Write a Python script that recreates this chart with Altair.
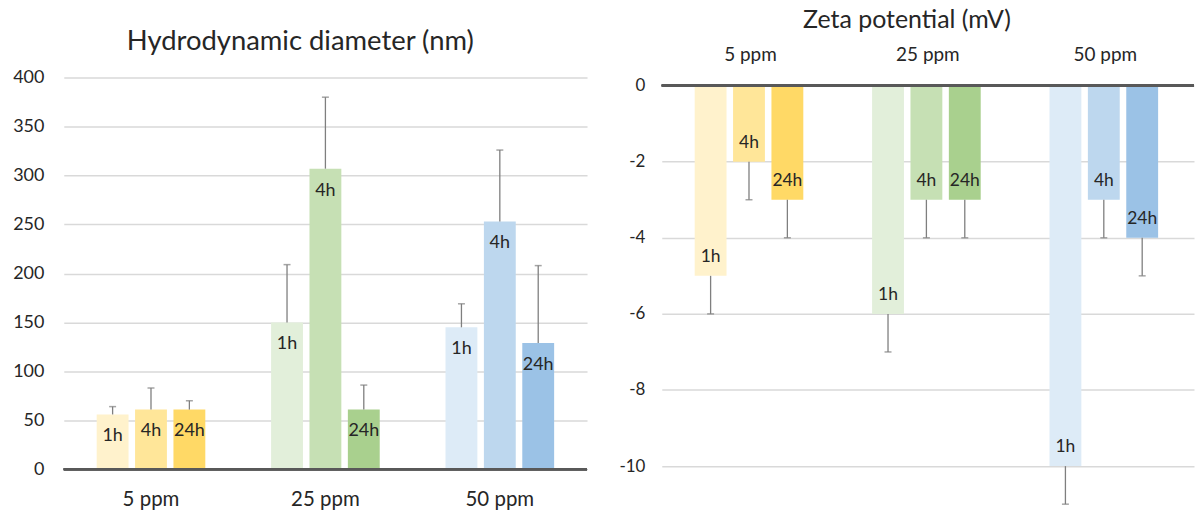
import altair as alt
import pandas as pd

# Concentrations and exposure times
groups = ["5 ppm", "25 ppm", "50 ppm"]
times = ["1h", "4h", "24h"]

# Hydrodynamic diameter (nm): mean and standard deviation, ordered group by group, 1h/4h/24h
hd_mean = [56, 61, 61, 150, 307, 61, 145, 253, 129]
hd_sd = [8, 22, 9, 59, 73, 25, 24, 73, 79]

# Zeta potential (mV): mean and standard deviation
zeta_mean = [-5, -2, -3, -6, -3, -3, -10, -3, -4]
zeta_sd = [1, 1, 1, 1, 1, 1, 1, 1, 1]

# One shade per concentration, darkening with exposure time
bar_colors = [
    "#FFF2CC", "#FFE699", "#FFD966",
    "#E2EFDA", "#C6E0B4", "#A9D08E",
    "#DDEBF7", "#BDD7EE", "#9BC2E6",
]

FONT = "Lato"
TEXT = "#262626"
GRID = "#D9D9D9"
AXIS_LINE = "#595959"
ERR = "#7F7F7F"

rows = []
i = 0
for g in groups:
    for t in times:
        rows.append({
            "group": g, "time": t, "key": f"{g} {t}",
            "hd": hd_mean[i], "hd_hi": hd_mean[i] + hd_sd[i],
            "zeta": zeta_mean[i], "zeta_lo": zeta_mean[i] - zeta_sd[i],
        })
        i += 1
df = pd.DataFrame(rows)
keys = list(df["key"])
color = alt.Color("key:N", scale=alt.Scale(domain=keys, range=bar_colors), legend=None)

# ---------------- Hydrodynamic diameter ----------------
x_left = alt.X(
    "group:N", sort=groups, title=None,
    scale=alt.Scale(paddingInner=0, paddingOuter=0),
    axis=alt.Axis(labelAngle=0, ticks=False, domain=False, labelPadding=20,
                  labelFont=FONT, labelFontSize=20.5, labelColor=TEXT),
)
xo_left = alt.XOffset("time:N", sort=times,
                      scale=alt.Scale(paddingInner=0.17, paddingOuter=0.857))
y_left = alt.Y(
    "hd:Q", title=None,
    scale=alt.Scale(domain=[0, 400], nice=False),
    axis=alt.Axis(values=[0, 50, 100, 150, 200, 250, 300, 350, 400],
                  ticks=False, domain=False, labelPadding=20,
                  labelFont=FONT, labelFontSize=18, labelColor=TEXT,
                  gridColor=GRID, gridWidth=1.5),
)

base_l = alt.Chart(df)
bars_l = base_l.mark_bar().encode(x=x_left, xOffset=xo_left, y=y_left, color=color)
err_l = base_l.mark_rule(color=ERR, strokeWidth=1.3).encode(
    x=x_left, xOffset=xo_left, y="hd:Q", y2="hd_hi:Q")
cap_l = base_l.mark_tick(color=ERR, thickness=1.5, size=7).encode(
    x=x_left, xOffset=xo_left, y="hd_hi:Q")
lab_l = base_l.mark_text(font=FONT, fontSize=18, color=TEXT, baseline="middle", dy=22).encode(
    x=x_left, xOffset=xo_left, y="hd:Q", text="time:N")
zero_l = alt.Chart(df).mark_rule(color=AXIS_LINE, strokeWidth=2).encode(y=alt.datum(0))

left = alt.layer(bars_l, err_l, cap_l, lab_l, zero_l).properties(
    width=525, height=393,
    title=alt.TitleParams("Hydrodynamic diameter (nm)", font=FONT, fontSize=27.5,
                          fontWeight="normal", color=TEXT, anchor="middle",
                          frame="bounds", offset=13),
)

# ---------------- Zeta potential ----------------
x_right = alt.X(
    "group:N", sort=groups, title=None,
    scale=alt.Scale(paddingInner=0, paddingOuter=0),
    axis=alt.Axis(orient="top", labelAngle=0, ticks=False, domain=False, labelPadding=13,
                  labelFont=FONT, labelFontSize=19, labelColor=TEXT),
)
xo_right = alt.XOffset("time:N", sort=times,
                       scale=alt.Scale(paddingInner=0.19, paddingOuter=0.848))
# a little headroom above zero keeps the zero line just below the category labels
y_right = alt.Y(
    "zeta:Q", title=None,
    scale=alt.Scale(domain=[-11, 0.21], nice=False),
    axis=alt.Axis(values=[0, -2, -4, -6, -8, -10], labelExpr="'' + datum.value",
                  ticks=False, domain=False, labelPadding=17,
                  labelFont=FONT, labelFontSize=17, labelColor=TEXT,
                  gridColor=GRID, gridWidth=1.5),
)

base_r = alt.Chart(df)
bars_r = base_r.mark_bar().encode(x=x_right, xOffset=xo_right, y=y_right, color=color)
err_r = base_r.mark_rule(color=ERR, strokeWidth=1.3).encode(
    x=x_right, xOffset=xo_right, y="zeta:Q", y2="zeta_lo:Q")
cap_r = base_r.mark_tick(color=ERR, thickness=1.5, size=7).encode(
    x=x_right, xOffset=xo_right, y="zeta_lo:Q")
lab_r = base_r.mark_text(font=FONT, fontSize=17.5, color=TEXT, baseline="middle", dy=-19).encode(
    x=x_right, xOffset=xo_right, y="zeta:Q", text="time:N")
zero_r = alt.Chart(df).mark_rule(color=AXIS_LINE, strokeWidth=2).encode(y=alt.datum(0))

right = alt.layer(bars_r, err_r, cap_r, lab_r, zero_r).properties(
    width=534, height=428,
    title=alt.TitleParams("Zeta potential (mV)", font=FONT, fontSize=25,
                          fontWeight="normal", color=TEXT, anchor="middle",
                          frame="bounds", offset=13),
)

chart = alt.hconcat(left, right, spacing=30).properties(
    padding={"left": 12, "top": 7, "right": 0, "bottom": 0},
    background="white",
).configure_view(stroke=None)

chart.save("out.html", embed_options={"renderer": "svg", "actions": False})
